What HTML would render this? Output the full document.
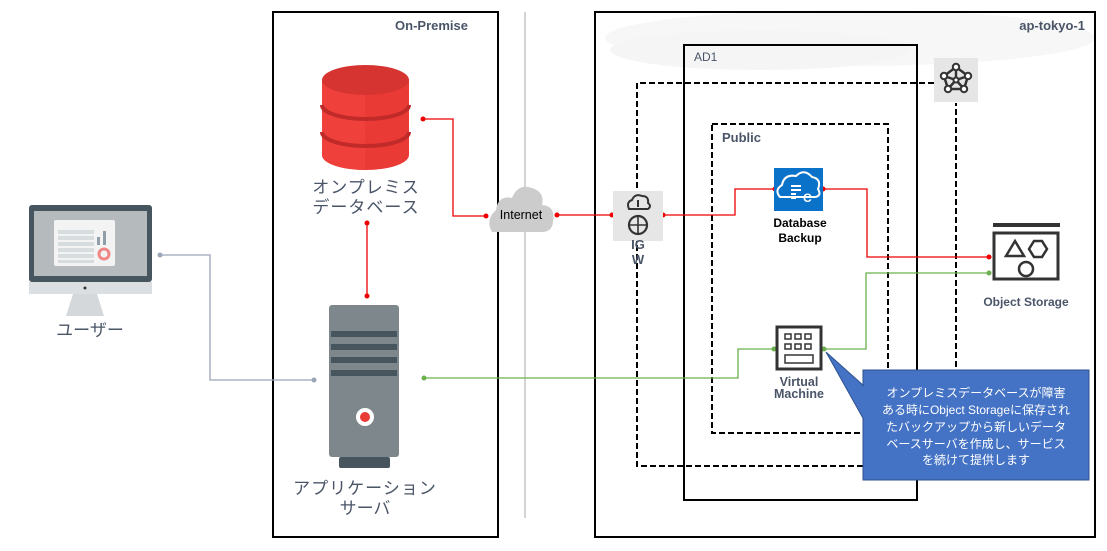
<!DOCTYPE html>
<html><head><meta charset="utf-8"><style>
body{margin:0;background:#fff;width:1107px;height:546px;overflow:hidden}
svg text{font-family:"Liberation Sans","Noto Sans CJK JP",sans-serif}
</style></head><body>
<svg width="1107" height="546" viewBox="0 0 1107 546" xmlns="http://www.w3.org/2000/svg">
<ellipse cx="850" cy="38" rx="245" ry="28" fill="#f7f7f7"/>
<ellipse cx="760" cy="50" rx="150" ry="20" fill="#f5f5f5"/>
<!-- boxes -->
<rect x="273" y="12" width="225" height="525" fill="none" stroke="#000" stroke-width="2"/>
<text x="468" y="30" text-anchor="end" font-size="13" font-weight="bold" fill="#4a5568">On-Premise</text>
<line x1="525" y1="12" x2="525" y2="518" stroke="#aaa" stroke-width="1"/>
<rect x="595" y="12" width="500" height="525" fill="none" stroke="#000" stroke-width="2"/>
<text x="1085" y="30" text-anchor="end" font-size="13" font-weight="bold" fill="#4a5568">ap-tokyo-1</text>
<rect x="684" y="45" width="233" height="455" fill="none" stroke="#000" stroke-width="2"/>
<text x="694" y="61" font-size="12" fill="#4a5568">AD1</text>
<path d="M934 83 H637 V466 H956 V103" fill="none" stroke="#000" stroke-width="2" stroke-dasharray="6,3"/>
<rect x="712" y="124" width="176" height="309" fill="none" stroke="#000" stroke-width="2" stroke-dasharray="6,3"/>
<text x="722" y="142" font-size="13" font-weight="bold" fill="#4a5568">Public</text>
<!-- router icon -->
<rect x="934" y="58" width="44" height="44" fill="#e6e6e6"/>
<g fill="none" stroke="#333" stroke-width="2.5">
<polygon points="956,67 968,76 964,89 948,89 944,76"/>
<line x1="956" y1="67" x2="956" y2="80"/><line x1="944" y1="76" x2="956" y2="80"/><line x1="968" y1="76" x2="956" y2="80"/><line x1="948" y1="89" x2="956" y2="80"/><line x1="964" y1="89" x2="956" y2="80"/>
</g>
<g fill="#fff" stroke="#333" stroke-width="2"><circle cx="956" cy="67" r="3.2"/><circle cx="968" cy="76" r="3.2"/><circle cx="964" cy="89" r="3.2"/><circle cx="948" cy="89" r="3.2"/><circle cx="944" cy="76" r="3.2"/><circle cx="956" cy="80" r="2.5"/></g>
<!-- connectors -->
<g fill="none" stroke-width="1.3">
<path d="M160 255 H210 V380 H314" stroke="#9aa5b8"/>
<path d="M423 119 H453 V216 H487" stroke="#e00"/>
<path d="M557 215 H612" stroke="#e00"/>
<path d="M663 215 H735 V189 H775" stroke="#e00"/>
<path d="M823 189 H867 V257 H989" stroke="#e00"/>
<path d="M367 223 V296" stroke="#e00"/>
<path d="M424 378 H738 V349 H774" stroke="#6ab04c"/>
<path d="M824 349 H866 V273 H989" stroke="#6ab04c"/>
</g>
<g fill="#e00"><circle cx="423" cy="119" r="2.5"/><circle cx="486" cy="216" r="2.5"/><circle cx="557" cy="215" r="2.5"/><circle cx="612" cy="215" r="2.5"/><circle cx="663" cy="215" r="2.5"/><circle cx="775" cy="189" r="2.5"/><circle cx="823" cy="189" r="2.5"/><circle cx="989" cy="257" r="2.5"/><circle cx="367" cy="223" r="2.5"/><circle cx="367" cy="296" r="2.5"/></g>
<g fill="#6ab04c"><circle cx="424" cy="378" r="2.5"/><circle cx="774" cy="349" r="2.5"/><circle cx="824" cy="349" r="2.5"/><circle cx="989" cy="273" r="2.5"/></g>
<g fill="#9aa5b8"><circle cx="160" cy="255" r="2.5"/><circle cx="314" cy="380" r="2.5"/></g>
<!-- monitor -->
<rect x="29" y="205" width="123" height="77" rx="3" fill="#47555e"/>
<rect x="34" y="211" width="113" height="65" fill="#b5babd"/>
<rect x="54" y="220" width="61" height="46" rx="2" fill="#f3f3f3"/>
<g fill="#d7dcdf"><rect x="58" y="230" width="36" height="4"/><rect x="58" y="236" width="36" height="4"/><rect x="58" y="242" width="36" height="4"/><rect x="58" y="248" width="36" height="4"/><rect x="58" y="254" width="36" height="4"/><rect x="58" y="260" width="36" height="3"/></g>
<rect x="97" y="237" width="3" height="8" fill="#8f9ea8"/><rect x="103" y="231" width="3" height="14" fill="#8f9ea8"/>
<circle cx="104" cy="254" r="5" fill="none" stroke="#e88" stroke-width="3"/>
<rect x="29" y="282" width="123" height="12" fill="#dcdfe1"/>
<circle cx="85" cy="288" r="1.5" fill="#333"/>
<polygon points="73,294 97,294 104,316 66,316" fill="#d5d8da"/>
<text x="90" y="336" text-anchor="middle" font-size="17" fill="#4a5568">ユーザー</text>
<!-- db cylinder -->
<path d="M322 80 V155 A43.5 15 0 0 0 409 155 V80 Z" fill="#ea3a36"/>
<path d="M322 80 V155 A43.5 15 0 0 0 365 170 V80 Z" fill="#f0403c"/>
<ellipse cx="365.5" cy="80" rx="43.5" ry="15" fill="#d63431"/>
<path d="M322 105 A43.5 14 0 0 0 409 105" fill="none" stroke="#c02a28" stroke-width="4"/>
<path d="M322 132 A43.5 14 0 0 0 409 132" fill="none" stroke="#c02a28" stroke-width="4"/>
<text x="366" y="193" text-anchor="middle" font-size="17" fill="#4a5568" letter-spacing="1">オンプレミス</text>
<text x="366" y="213" text-anchor="middle" font-size="17" fill="#4a5568" letter-spacing="1">データベース</text>
<!-- server -->
<rect x="329" y="305" width="70" height="152" rx="3" fill="#7d878c"/>
<g fill="#47555e"><rect x="331" y="331" width="66" height="6"/><rect x="331" y="344" width="66" height="6"/><rect x="331" y="357" width="66" height="6"/><rect x="331" y="370" width="66" height="6"/><rect x="339" y="457" width="51" height="11" rx="2"/></g>
<circle cx="365" cy="417" r="9" fill="#fff"/><circle cx="365" cy="417" r="5" fill="#ea3a36"/>
<text x="365" y="494" text-anchor="middle" font-size="17" fill="#4a5568" letter-spacing="1">アプリケーション</text>
<text x="365" y="514" text-anchor="middle" font-size="17" fill="#4a5568">サーバ</text>
<!-- internet cloud -->
<path d="M492 232 Q485 220 496 210 Q498 195 512 198 Q518 183 532 188 Q545 192 542 205 Q556 206 553 222 Q552 232 542 232 Z" fill="#cccccc"/>
<text x="521" y="219" text-anchor="middle" font-size="12.5" fill="#000">Internet</text>
<!-- IGW -->
<rect x="613" y="191" width="50" height="50" fill="#e6e6e6"/>
<path d="M629 209 Q626 202 632 200 Q635 193 642 196 Q649 196 648 203 Q652 206 648 209 Z" fill="none" stroke="#333" stroke-width="2"/>
<line x1="638" y1="207" x2="638" y2="200" stroke="#333" stroke-width="2"/>
<circle cx="638" cy="225" r="9" fill="none" stroke="#333" stroke-width="2.2"/>
<path d="M638 217 V233 M630 225 H646" stroke="#333" stroke-width="1.6"/>
<text x="638" y="249" text-anchor="middle" font-size="13" font-weight="bold" fill="#4a5568">IG</text>
<text x="638" y="264" text-anchor="middle" font-size="13" font-weight="bold" fill="#4a5568">W</text>
<!-- DB backup -->
<rect x="774" y="168" width="49" height="43" fill="#0a72c8"/>
<path d="M780 197 Q774 190 782 185 Q784 174 796 176 Q804 168 812 177 Q822 179 818 189 Q822 196 815 197 Z" fill="none" stroke="#fff" stroke-width="2"/>
<g fill="#fff"><rect x="791" y="185" width="10" height="2"/><rect x="791" y="189" width="10" height="2"/><rect x="791" y="193" width="5" height="2"/><rect x="791" y="197" width="5" height="2"/></g>
<text x="803" y="202" font-size="12" font-weight="bold" fill="#fff">C</text>
<text x="800" y="227" text-anchor="middle" font-size="12" font-weight="bold" fill="#000">Database</text>
<text x="800" y="242" text-anchor="middle" font-size="12" font-weight="bold" fill="#000">Backup</text>
<!-- object storage -->
<rect x="993" y="223" width="67" height="4" fill="#333"/>
<rect x="994" y="233" width="64" height="46" fill="none" stroke="#333" stroke-width="3"/>
<polygon points="1015,241 1024,256 1006,256" fill="none" stroke="#333" stroke-width="2.5"/>
<polygon points="1034,241 1042,241 1047,249 1042,257 1034,257 1029,249" fill="none" stroke="#333" stroke-width="2.5"/>
<circle cx="1026" cy="269" r="7" fill="none" stroke="#333" stroke-width="2.5"/>
<text x="1026" y="306" text-anchor="middle" font-size="12" font-weight="bold" fill="#4a5568">Object Storage</text>
<!-- VM -->
<rect x="777" y="327" width="44" height="42" fill="#fff" stroke="#333" stroke-width="3"/>
<g fill="none" stroke="#333" stroke-width="1.5"><rect x="785" y="334" width="6" height="5"/><rect x="795" y="334" width="6" height="5"/><rect x="805" y="334" width="6" height="5"/><rect x="785" y="344" width="6" height="5"/><rect x="795" y="344" width="6" height="5"/><rect x="805" y="344" width="6" height="5"/><rect x="785" y="355" width="28" height="8"/></g>
<text x="799" y="386" text-anchor="middle" font-size="12.5" font-weight="bold" fill="#4a5568">Virtual</text>
<text x="799" y="398" text-anchor="middle" font-size="12.5" font-weight="bold" fill="#4a5568">Machine</text>
<!-- callout -->
<rect x="863" y="370" width="226" height="110" fill="#4472c4" stroke="#2f528f" stroke-width="1"/>
<polygon points="826,352 864,386 864,420" fill="#4472c4"/>
<path d="M864 386 L826 352 L864 420" fill="none" stroke="#2f528f" stroke-width="1"/>
<g font-size="12" fill="#fff" text-anchor="middle">
<text x="976" y="397">オンプレミスデータベースが障害</text>
<text x="976" y="414">ある時にObject Storageに保存され</text>
<text x="976" y="431">たバックアップから新しいデータ</text>
<text x="976" y="448">ベースサーバを作成し、サービス</text>
<text x="976" y="464">を続けて提供します</text>
</g>
</svg>
</body></html>
